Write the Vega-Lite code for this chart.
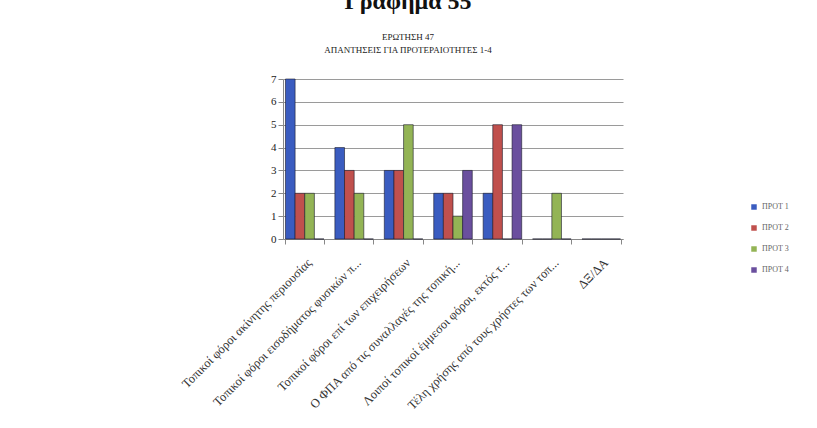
{
  "$schema": "https://vega.github.io/schema/vega-lite/v6.json",
  "width": 340,
  "height": 160,
  "autosize": {"type": "none"},
  "padding": {"left": 283, "top": 79, "right": 194, "bottom": 189},
  "background": "white",
  "title": {
    "text": "Γράφημα 55",
    "subtitle": ["ΕΡΩΤΗΣΗ 47", "ΑΠΑΝΤΗΣΕΙΣ ΓΙΑ ΠΡΟΤΕΡΑΙΟΤΗΤΕΣ 1-4"],
    "anchor": "middle",
    "dx": -45,
    "font": "Liberation Serif",
    "fontSize": 24,
    "fontWeight": "bold",
    "color": "#111",
    "subtitleFont": "Liberation Serif",
    "subtitleFontSize": 9,
    "subtitleColor": "#222",
    "subtitleLineHeight": 13,
    "subtitlePadding": 19,
    "offset": 18
  },
  "data": {
    "values": [
      {"cat": "Τοπικοί φόροι ακίνητης περιουσίας", "series": "ΠΡΟΤ 1", "value": 7},
      {"cat": "Τοπικοί φόροι ακίνητης περιουσίας", "series": "ΠΡΟΤ 2", "value": 2},
      {"cat": "Τοπικοί φόροι ακίνητης περιουσίας", "series": "ΠΡΟΤ 3", "value": 2},
      {"cat": "Τοπικοί φόροι ακίνητης περιουσίας", "series": "ΠΡΟΤ 4", "value": 0},
      {"cat": "Τοπικοί φόροι εισοδήματος φυσικών π...", "series": "ΠΡΟΤ 1", "value": 4},
      {"cat": "Τοπικοί φόροι εισοδήματος φυσικών π...", "series": "ΠΡΟΤ 2", "value": 3},
      {"cat": "Τοπικοί φόροι εισοδήματος φυσικών π...", "series": "ΠΡΟΤ 3", "value": 2},
      {"cat": "Τοπικοί φόροι εισοδήματος φυσικών π...", "series": "ΠΡΟΤ 4", "value": 0},
      {"cat": "Τοπικοί φόροι επί των επιχειρήσεων", "series": "ΠΡΟΤ 1", "value": 3},
      {"cat": "Τοπικοί φόροι επί των επιχειρήσεων", "series": "ΠΡΟΤ 2", "value": 3},
      {"cat": "Τοπικοί φόροι επί των επιχειρήσεων", "series": "ΠΡΟΤ 3", "value": 5},
      {"cat": "Τοπικοί φόροι επί των επιχειρήσεων", "series": "ΠΡΟΤ 4", "value": 0},
      {"cat": "Ο ΦΠΑ από τις συναλλαγές της τοπική...", "series": "ΠΡΟΤ 1", "value": 2},
      {"cat": "Ο ΦΠΑ από τις συναλλαγές της τοπική...", "series": "ΠΡΟΤ 2", "value": 2},
      {"cat": "Ο ΦΠΑ από τις συναλλαγές της τοπική...", "series": "ΠΡΟΤ 3", "value": 1},
      {"cat": "Ο ΦΠΑ από τις συναλλαγές της τοπική...", "series": "ΠΡΟΤ 4", "value": 3},
      {"cat": "Λοιποί τοπικοί έμμεσοι φόροι, εκτός τ...", "series": "ΠΡΟΤ 1", "value": 2},
      {"cat": "Λοιποί τοπικοί έμμεσοι φόροι, εκτός τ...", "series": "ΠΡΟΤ 2", "value": 5},
      {"cat": "Λοιποί τοπικοί έμμεσοι φόροι, εκτός τ...", "series": "ΠΡΟΤ 3", "value": 0},
      {"cat": "Λοιποί τοπικοί έμμεσοι φόροι, εκτός τ...", "series": "ΠΡΟΤ 4", "value": 5},
      {"cat": "Τέλη χρήσης από τους χρήστες των τοπ...", "series": "ΠΡΟΤ 1", "value": 0},
      {"cat": "Τέλη χρήσης από τους χρήστες των τοπ...", "series": "ΠΡΟΤ 2", "value": 0},
      {"cat": "Τέλη χρήσης από τους χρήστες των τοπ...", "series": "ΠΡΟΤ 3", "value": 2},
      {"cat": "Τέλη χρήσης από τους χρήστες των τοπ...", "series": "ΠΡΟΤ 4", "value": 0},
      {"cat": "ΔΞ/ΔΑ", "series": "ΠΡΟΤ 1", "value": 0},
      {"cat": "ΔΞ/ΔΑ", "series": "ΠΡΟΤ 2", "value": 0},
      {"cat": "ΔΞ/ΔΑ", "series": "ΠΡΟΤ 3", "value": 0},
      {"cat": "ΔΞ/ΔΑ", "series": "ΠΡΟΤ 4", "value": 0}
    ]
  },
  "mark": {"type": "bar", "stroke": "#1a1a2a", "strokeWidth": 0.6},
  "encoding": {
    "x": {
      "field": "cat",
      "type": "nominal",
      "sort": null,
      "title": null,
      "scale": {"paddingInner": 0.22, "paddingOuter": 0.05},
      "axis": {
        "labelAngle": -45,
        "labelFont": "Liberation Serif",
        "labelFontSize": 12.5,
        "labelColor": "#333",
        "labelLimit": 300,
        "tickBand": "extent",
        "tickColor": "#888",
        "domainColor": "#888",
        "labelPadding": 12
      }
    },
    "xOffset": {"field": "series", "type": "nominal", "sort": null},
    "y": {
      "field": "value",
      "type": "quantitative",
      "title": null,
      "scale": {"domain": [0, 7]},
      "axis": {
        "values": [0, 1, 2, 3, 4, 5, 6, 7],
        "labelFont": "Liberation Serif",
        "labelFontSize": 11,
        "labelColor": "#222",
        "gridColor": "#9a9a9a",
        "domainColor": "#888",
        "tickColor": "#888",
        "tickSize": 5
      }
    },
    "color": {
      "field": "series",
      "type": "nominal",
      "title": null,
      "scale": {"domain": ["ΠΡΟΤ 1", "ΠΡΟΤ 2", "ΠΡΟΤ 3", "ΠΡΟΤ 4"], "range": ["#3a5cc0", "#c0504d", "#93b455", "#6a4f9e"]},
      "legend": {
        "orient": "none",
        "legendX": 467,
        "legendY": 124,
        "symbolType": "square",
        "symbolSize": 30,
        "symbolStrokeWidth": 0,
        "labelFont": "Liberation Serif",
        "labelFontSize": 8,
        "labelColor": "#666",
        "rowPadding": 13
      }
    }
  },
  "config": {"view": {"stroke": null}}
}
